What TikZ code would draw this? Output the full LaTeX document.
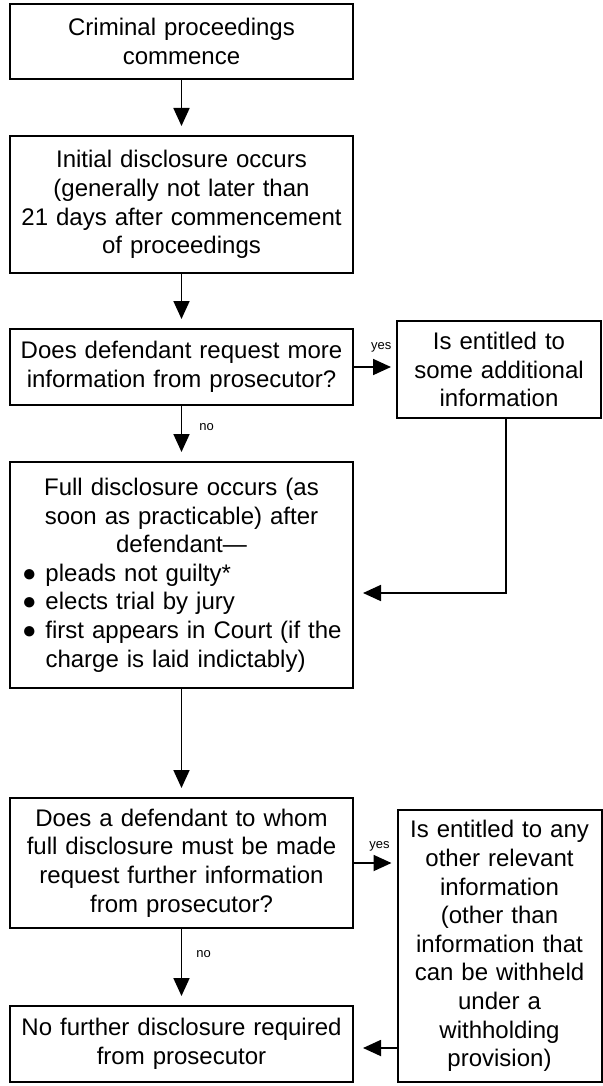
\documentclass[tikz,border=0pt]{standalone}
\usepackage{fontspec}
\setmainfont{Liberation Sans}
\usepackage{tikz}
\usetikzlibrary{arrows.meta,calc,positioning}
\newcommand{\boxfont}{\fontsize{24}{28.6}\selectfont}
\newcommand{\bitem}[1]{\par\noindent\hspace*{8pt}\makebox[23.5pt][l]{●}%
  \parbox[t]{300pt}{\raggedright #1}}
\tikzset{
  stepbox/.style={draw,line width=2pt,inner xsep=4pt,inner ysep=0pt,align=center,font=\boxfont},
  mainbox/.style={stepbox,minimum width=343pt,text width=335pt},
  sidebox/.style={stepbox,minimum width=204pt,text width=196pt},
  flow/.style={line width=1.8pt,-{Triangle[length=18pt,width=16pt]},shorten >=9pt},
  lbl/.style={font=\fontsize{13}{15}\selectfont,inner sep=0pt}
}
\begin{document}
\begin{tikzpicture}[x=1pt,y=-1pt]
\useasboundingbox (0,0) rectangle (602,1086);
% left column
\node[mainbox,minimum height=75pt] (start) at (181.5,41.5) {Criminal proceedings\\commence};
\node[mainbox,minimum height=137pt] (initial) at (181.5,204.5) {Initial disclosure occurs\\(generally not later than\\21 days after commencement\\of proceedings};
\node[mainbox,minimum height=76pt] (ask1) at (181.5,367) {Does defendant request more\\information from prosecutor?};
\node[mainbox,minimum height=226pt,align=left] (full) at (181.5,575) {%
  {\centering Full disclosure occurs (as\\soon as practicable) after\\defendant—\par}%
  \bitem{pleads not guilty*}%
  \bitem{elects trial by jury}%
  \bitem{first appears in Court (if the\\charge is laid indictably)}};
\node[mainbox,minimum height=130pt] (ask2) at (181.5,863) {Does a defendant to whom\\full disclosure must be made\\request further information\\from prosecutor?};
\node[mainbox,minimum height=76pt] (none) at (181.5,1044) {No further disclosure required\\from prosecutor};
% right column
\node[sidebox,minimum height=97pt] (extra1) at (499,369.5) {Is entitled to\\some additional\\information};
\node[sidebox,minimum height=272pt] (extra2) at (499.5,946) {Is entitled to any\\other relevant\\information\\(other than\\information that\\can be withheld\\under a\\withholding\\provision)};
% connectors
\draw[flow] (start) -- (initial);
\draw[flow] (initial) -- (ask1);
\draw[flow,shorten >=5pt] (ask1.east) -- (ask1.east -| extra1.west)
  node[lbl,pos=0.65,above=13.5pt] {yes};
\draw[flow] (ask1) -- (full) node[lbl,pos=0.39,anchor=west,xshift=17pt] {no};
\draw[flow] ([xshift=7pt]extra1.south) |- ([yshift=-18pt]full.east);
\draw[flow] (full) -- (ask2);
\draw[flow,shorten >=5pt] (ask2.east) -- (ask2.east -| extra2.west)
  node[lbl,pos=0.6,above=10.5pt] {yes};
\draw[flow] (ask2) -- (none) node[lbl,pos=0.33,anchor=west,xshift=14pt] {no};
\draw[flow] ([yshift=-4pt]extra2.west |- none.east) -- ([yshift=-4pt]none.east);
\end{tikzpicture}
\end{document}
